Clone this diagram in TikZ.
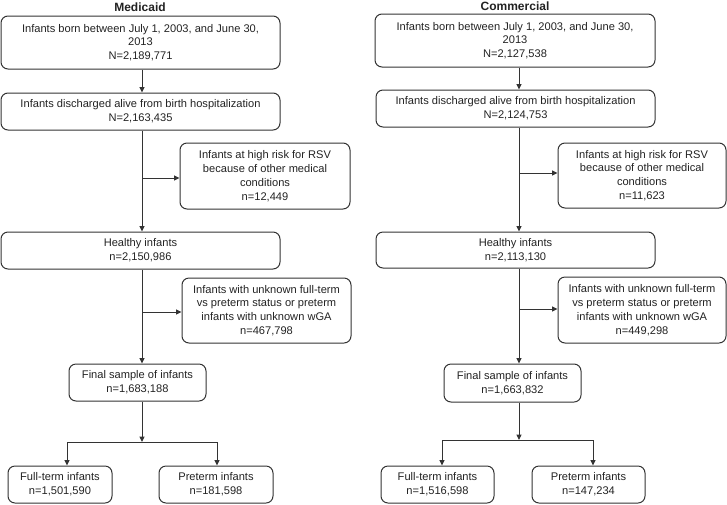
\documentclass[tikz,border=0pt]{standalone}
\usepackage{fontspec}
\setmainfont{Liberation Sans}
\usetikzlibrary{arrows.meta}
\definecolor{lc}{HTML}{333333}
\definecolor{tc}{HTML}{222222}
\begin{document}
\begin{tikzpicture}[x=1pt,y=-1pt,
 box/.style={draw=lc, line width=1pt, rounded corners=7pt, align=center, inner sep=0pt, font=\fontsize{11.1}{13.8}\selectfont, text=tc},
 arr/.style={draw=lc, line width=1pt, -{Triangle[length=5.5pt,width=5pt]}},
 ln/.style={draw=lc, line width=1pt},
 ttl/.style={font=\bfseries\fontsize{12}{14}\selectfont, text=tc}]
\useasboundingbox (0,0) rectangle (727,504);
% titles
\node[ttl] (tM) at (140,7.5) {Medicaid};
\node[ttl] (tC) at (515,6.5) {Commercial};
% left column
\node[box, minimum width=279pt, minimum height=53pt] (L1) at (140.5,42.5) {Infants born between July 1, 2003, and June 30,\\2013\\N=2,189,771};
\node[box, minimum width=279pt, minimum height=37pt] (L2) at (140.5,111.5) {Infants discharged alive from birth hospitalization\\N=2,163,435};
\node[box, minimum width=170pt, minimum height=66pt] (LS1) at (265,176) {Infants at high risk for RSV\\because of other medical\\conditions\\n=12,449};
\node[box, minimum width=279pt, minimum height=37pt] (L3) at (140.5,250.5) {Healthy infants\\n=2,150,986};
\node[box, minimum width=169pt, minimum height=65pt] (LS2) at (266.5,310.5) {Infants with unknown full-term\\vs preterm status or preterm\\infants with unknown wGA\\n=467,798};
\node[box, minimum width=137pt, minimum height=37pt] (L4) at (137.5,382.5) {Final sample of infants\\n=1,683,188};
\node[box, minimum width=104pt, minimum height=37pt] (L5) at (60,484.5) {Full-term infants\\n=1,501,590};
\node[box, minimum width=114pt, minimum height=37pt] (L6) at (216,484.5) {Preterm infants\\n=181,598};
% right column
\node[box, minimum width=280pt, minimum height=53pt] (R1) at (515,40.5) {Infants born between July 1, 2003, and June 30,\\2013\\N=2,127,538};
\node[box, minimum width=279pt, minimum height=37pt] (R2) at (515.5,108.5) {Infants discharged alive from birth hospitalization\\N=2,124,753};
\node[box, minimum width=168pt, minimum height=65pt] (RS1) at (642,175.5) {Infants at high risk for RSV\\because of other medical\\conditions\\n=11,623};
\node[box, minimum width=279pt, minimum height=36pt] (R3) at (515.5,250) {Healthy infants\\n=2,113,130};
\node[box, minimum width=168pt, minimum height=66pt] (RS2) at (642,310) {Infants with unknown full-term\\vs preterm status or preterm\\infants with unknown wGA\\n=449,298};
\node[box, minimum width=137pt, minimum height=38pt] (R4) at (512.5,383) {Final sample of infants\\n=1,663,832};
\node[box, minimum width=113pt, minimum height=37pt] (R5) at (437.5,484.5) {Full-term infants\\n=1,516,598};
\node[box, minimum width=113pt, minimum height=37pt] (R6) at (588.5,484.5) {Preterm infants\\n=147,234};
% trunk coordinates
\coordinate (lt) at (142,0);
\coordinate (rt) at (519,0);
\coordinate (lb1) at (142,178);
\coordinate (lb2) at (142,312);
\coordinate (rb1) at (519,173);
\coordinate (rb2) at (519,309);
\coordinate (lsp) at (142,442);
\coordinate (lsl) at (67,442);
\coordinate (lsr) at (217,442);
\coordinate (rsp) at (519,440);
\coordinate (rsl) at (442,440);
\coordinate (rsr) at (593,440);
% left connectors
\draw[arr] (L1.south -| lt) -- (L2.north -| lt);
\draw[arr] (L2.south -| lt) -- (L3.north -| lt);
\draw[arr] (lb1) -- (lb1 -| LS1.west);
\draw[arr] (L3.south -| lt) -- (L4.north -| lt);
\draw[arr] (lb2) -- (lb2 -| LS2.west);
\draw[arr] (L4.south -| lt) -- (lsp);
\draw[ln] (lsl) -- (lsr);
\draw[arr] (lsl) -- (lsl |- L5.north);
\draw[arr] (lsr) -- (lsr |- L6.north);
% right connectors
\draw[arr] (R1.south -| rt) -- (R2.north -| rt);
\draw[arr] (R2.south -| rt) -- (R3.north -| rt);
\draw[arr] (rb1) -- (rb1 -| RS1.west);
\draw[arr] (R3.south -| rt) -- (R4.north -| rt);
\draw[arr] (rb2) -- (rb2 -| RS2.west);
\draw[arr] (R4.south -| rt) -- (rsp);
\draw[ln] (rsl) -- (rsr);
\draw[arr] (rsl) -- (rsl |- R5.north);
\draw[arr] (rsr) -- (rsr |- R6.north);
\end{tikzpicture}
\end{document}
